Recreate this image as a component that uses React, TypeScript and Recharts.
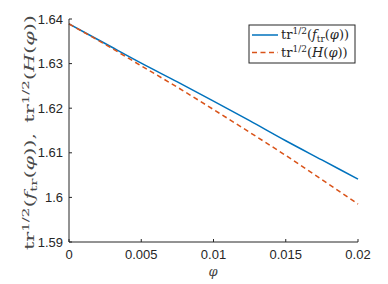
import React from 'react';
import { LineChart, Line, XAxis, YAxis } from 'recharts';

const phi = [0, 0.0025, 0.005, 0.0075, 0.01, 0.0125, 0.015, 0.0175, 0.02];
const trF = [1.6389, 1.6345, 1.6301, 1.6259, 1.6216, 1.6172, 1.6127, 1.6084, 1.6041];
const trH = [1.6389, 1.6343, 1.6295, 1.6247, 1.6197, 1.6146, 1.6094, 1.604, 1.5985];

const xTicks = [0, 0.005, 0.01, 0.015, 0.02];
const yTicks = [1.59, 1.6, 1.61, 1.62, 1.63, 1.64];

const data = phi.map((p, i) => ({ phi: p, f: trF[i], h: trH[i] }));

const BLUE = '#0072BD';
const RED = '#D95319';
const AXIS = '#262626';
const SERIF = '"DejaVu Serif", serif';
const SANS = '"Liberation Sans", Arial, sans-serif';

// pieces of the math labels: [text, kind]  n = normal, i = italic, sup, sub
type Seg = [string, 'n' | 'i' | 'sup' | 'sub'];
const segF: Seg[] = [['tr', 'n'], ['1/2', 'sup'], ['(', 'n'], ['f', 'i'], ['tr', 'sub'], ['(', 'n'], ['\u03c6', 'i'], ['))', 'n']];
const segH: Seg[] = [['tr', 'n'], ['1/2', 'sup'], ['(', 'n'], ['H', 'i'], ['(', 'n'], ['\u03c6', 'i'], ['))', 'n']];
const segY: Seg[] = [...segF, [',\u2002', 'n'], ...segH];

function MathSpans({ segs }: { segs: Seg[] }) {
  let shift = 0;
  return (
    <>
      {segs.map(([t, k], i) => {
        const target = k === 'sup' ? -5 : k === 'sub' ? 3 : 0;
        const dy = target - shift;
        shift = target;
        return (
          <tspan
            key={i}
            dy={dy || undefined}
            fontSize={k === 'sup' || k === 'sub' ? 9 : undefined}
            fontStyle={k === 'i' ? 'italic' : undefined}
          >
            {t}
          </tspan>
        );
      })}
    </>
  );
}

export default function App() {
  return (
    <div style={{ position: 'absolute', left: 0, top: 0, width: 388, height: 284, background: '#fff' }}>
      <LineChart width={388} height={284} data={data} margin={{ top: 19, right: 30, left: 0, bottom: 0 }}>
        <XAxis
          dataKey="phi"
          type="number"
          domain={[0, 0.02]}
          ticks={xTicks}
          height={42}
          stroke={AXIS}
          tickSize={-3}
          tickMargin={11}
          tick={{ fill: AXIS, fontSize: 13, fontFamily: SANS }}
        />
        <XAxis
          xAxisId="top"
          dataKey="phi"
          type="number"
          orientation="top"
          mirror
          domain={[0, 0.02]}
          ticks={xTicks}
          height={0}
          stroke={AXIS}
          tickSize={3}
          tick={false}
        />
        <YAxis
          type="number"
          domain={[1.59, 1.64]}
          ticks={yTicks}
          width={69}
          stroke={AXIS}
          tickSize={-3}
          tickMargin={9}
          tick={{ fill: AXIS, fontSize: 13, fontFamily: SANS }}
        />
        <YAxis
          yAxisId="right"
          type="number"
          orientation="right"
          mirror
          domain={[1.59, 1.64]}
          ticks={yTicks}
          width={0}
          stroke={AXIS}
          tickSize={3}
          tick={false}
        />
        <Line dataKey="f" type="monotone" stroke={BLUE} strokeWidth={1.5} dot={false} isAnimationActive={false} />
        <Line
          dataKey="h"
          type="monotone"
          stroke={RED}
          strokeWidth={1.5}
          strokeDasharray="5 3.5"
          dot={false}
          isAnimationActive={false}
        />
      </LineChart>
      <svg width={388} height={284} style={{ position: 'absolute', left: 0, top: 0, pointerEvents: 'none' }}>
        <text x={213} y={276} textAnchor="middle" fontFamily={SERIF} fontSize={13} fontStyle="italic" fill="#444">
          {'\u03c6'}
        </text>
        <text
          transform="translate(34,132.5) rotate(-90)"
          textAnchor="middle"
          fontFamily={SERIF}
          fontSize={12.5}
          fill="#4a4a4a"
          textLength={235}
          lengthAdjust="spacingAndGlyphs"
        >
          <MathSpans segs={segY} />
        </text>
        <rect x={249} y={25} width={106} height={38} fill="#fff" stroke={AXIS} strokeWidth={1} />
        <line x1={252} x2={278} y1={35} y2={35} stroke={BLUE} strokeWidth={1.5} />
        <line x1={252} x2={278} y1={52.5} y2={52.5} stroke={RED} strokeWidth={1.5} strokeDasharray="5 3.5" />
        <text x={281} y={39} fontFamily={SERIF} fontSize={13} fill={AXIS}>
          <MathSpans segs={segF} />
        </text>
        <text x={281} y={57} fontFamily={SERIF} fontSize={13} fill={AXIS}>
          <MathSpans segs={segH} />
        </text>
      </svg>
    </div>
  );
}
